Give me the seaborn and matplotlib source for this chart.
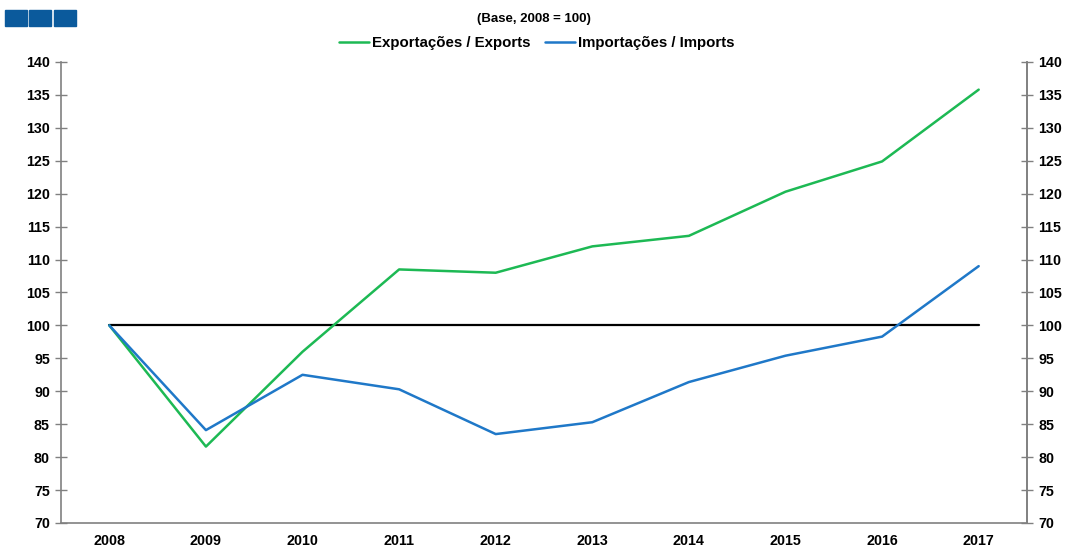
import numpy as np
import pandas as pd
import matplotlib
matplotlib.use("Agg")
import matplotlib.pyplot as plt
import seaborn as sns
from matplotlib.patches import Rectangle
from matplotlib.lines import Line2D

years = ["2008", "2009", "2010", "2011", "2012", "2013", "2014", "2015", "2016", "2017"]
exports = [100, 81.6, 96.0, 108.5, 108.0, 112.0, 113.6, 120.3, 124.9, 135.8]
imports = [100, 84.1, 92.5, 90.3, 83.5, 85.3, 91.4, 95.4, 98.3, 109.0]
base_level = 100
lbl_exp = "Exportações / Exports"
lbl_imp = "Importações / Imports"

df = pd.DataFrame({
    "pos": list(range(len(years))) * 2,
    "value": exports + imports,
    "serie": [lbl_exp] * len(years) + [lbl_imp] * len(years),
})

sns.set_style("white")
plt.rcParams["font.family"] = ["Liberation Sans", "DejaVu Sans"]
plt.rcParams["font.weight"] = "bold"
plt.rcParams["text.color"] = "black"
plt.rcParams["xtick.color"] = "black"
plt.rcParams["ytick.color"] = "black"

fig = plt.figure(figsize=(10.67, 5.47), dpi=100)
ax = fig.add_axes([0.0572, 0.0439, 0.9053, 0.8428])

# base line at 100
ax.plot([0, len(years) - 1], [base_level, base_level], color="black", lw=1.6, zorder=1)

sns.lineplot(data=df, x="pos", y="value", hue="serie",
             palette={lbl_exp: "#1DB954", lbl_imp: "#1F78C8"},
             linewidth=1.8, ax=ax, legend=False, zorder=3)

ax.set_xlim(-0.5, len(years) - 0.5)
ax.set_ylim(70, 140)
ax.set_yticks(np.arange(70, 141, 5))
ax.set_xticks(np.arange(len(years)))
ax.set_xticklabels(years)
ax.set_xlabel("")
ax.set_ylabel("")

# category boundary ticks on x
ax.set_xticks(np.arange(-0.5, len(years), 1), minor=True)
ax.tick_params(axis="x", which="major", length=0, pad=8, labelsize=10.3)
ax.tick_params(axis="x", which="minor", direction="in", length=5, color="#808080", width=1)
ax.tick_params(axis="y", direction="inout", length=8, color="#808080", width=1, labelsize=10.3, pad=4)

ax.spines["top"].set_visible(False)
for s in ["left", "right", "bottom"]:
    ax.spines[s].set_color("#808080")
    ax.spines[s].set_linewidth(1.2)

ax2 = ax.twinx()
ax2.set_ylim(ax.get_ylim())
ax2.set_yticks(np.arange(70, 141, 5))
ax2.tick_params(axis="y", direction="inout", length=8, color="#808080", width=1, labelsize=10.3, pad=4)
for s in ["top", "left", "bottom"]:
    ax2.spines[s].set_visible(False)
ax2.spines["right"].set_color("#808080")
ax2.spines["right"].set_linewidth(1.2)
for t in ax.get_xticklabels() + ax.get_yticklabels() + ax2.get_yticklabels():
    t.set_fontweight("bold")
    t.set_color("black")

# legend
handles = [Line2D([], [], color="#1DB954", lw=1.8), Line2D([], [], color="#1F78C8", lw=1.8)]
fig.legend(handles, [lbl_exp, lbl_imp], loc="center", bbox_to_anchor=(0.503, 0.921),
           ncol=2, frameon=False, handlelength=2.0, handletextpad=0.2,
           columnspacing=1.0, prop={"weight": "bold", "size": 10.8})

fig.text(0.5, 0.966, "(Base, 2008 = 100)", ha="center", va="center", fontsize=9.5, fontweight="bold")

# decorative blue squares top-left
for i in range(3):
    fig.patches.append(Rectangle((0.0047 + i * 0.0229, 0.953), 0.0206, 0.029,
                                 transform=fig.transFigure, color="#0B5A9C"))

fig.savefig("out.png", dpi=100)
